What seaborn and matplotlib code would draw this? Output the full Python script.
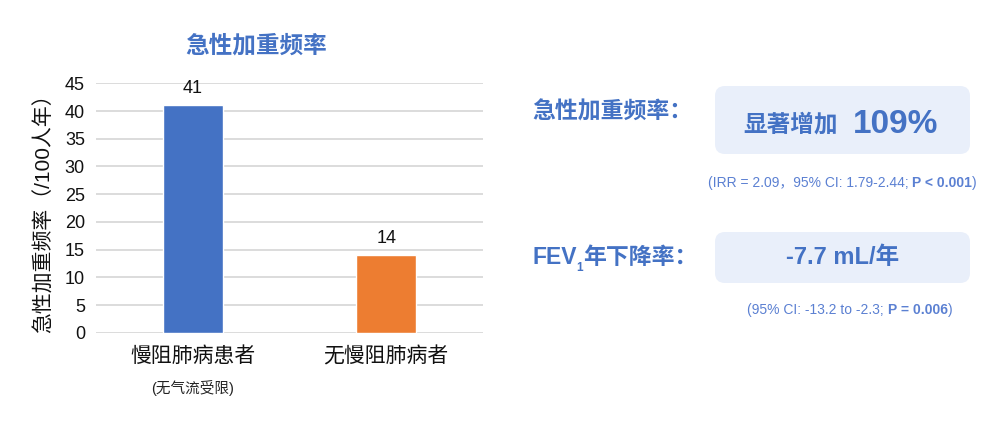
import matplotlib
matplotlib.use("Agg")
import pandas as pd
import seaborn as sns
import matplotlib.pyplot as plt
from matplotlib.patches import FancyBboxPatch

# chart data
groups = ["慢阻肺病患者", "无慢阻肺病者"]
rates = [41, 14]
yticks = [0, 5, 10, 15, 20, 25, 30, 35, 40, 45]
bar_colors = ["#4472C4", "#ED7D31"]
title = "急性加重频率"
ylabel = "急性加重频率（/100人年）"
sub_label = "(无气流受限)"

# right-hand summary texts
summary1_label = "急性加重频率："
summary1_word = "显著增加"
summary1_value = "109%"
summary1_stats = ["(IRR = 2.09，95% CI: 1.79-2.44; ", "P < 0.001", ")"]
summary2_label = ["FEV", "1", "年下降率："]
summary2_value = "-7.7 mL/年"
summary2_stats = ["(95% CI: -13.2 to -2.3; ", "P = 0.006", ")"]

sns.set_theme(style="whitegrid")
plt.rcParams['font.family'] = ['Liberation Sans', 'Noto Sans CJK SC', 'DejaVu Sans']

blue = "#4472C4"
light = "#5B80D2"

fig = plt.figure(figsize=(10, 4.25), dpi=100)
ax = fig.add_axes([0.096, 0.217, 0.387, 0.587])

df = pd.DataFrame({"group": groups, "rate": rates})
sns.barplot(data=df, x="group", y="rate", hue="group", palette=bar_colors,
            width=0.31, saturation=1, legend=False, ax=ax)

ax.set_xlim(-0.5, 1.5)
ax.set_ylim(0, 45)
ax.set_yticks(yticks)
ax.xaxis.grid(False)
ax.yaxis.grid(True, color="#D9D9D9", linewidth=1.3)
for s in ax.spines.values():
    s.set_visible(False)
ax.tick_params(axis="y", labelsize=13, pad=8, length=0, labelcolor="#111111")
ax.tick_params(axis="x", labelsize=15, pad=10, length=0, labelcolor="#111111")
ax.set_xlabel("")
ax.set_ylabel(ylabel, fontsize=15, labelpad=8, color="#111111")
for c in ax.containers:
    ax.bar_label(c, padding=6, fontsize=13, color="#111111")

ax.annotate(sub_label, xy=(0, 0), xycoords=("data", "axes fraction"),
            xytext=(0, -40), textcoords="offset points",
            ha="center", va="center", fontsize=10.5, color="#222222")

fig.text(0.256, 1 - 46 / 425, title, ha="center", va="center",
         fontsize=17, fontweight="bold", color=blue)

# overlay in pixel coordinates for the summary panel
pan = fig.add_axes([0, 0, 1, 1])
pan.set_xlim(0, 1000)
pan.set_ylim(425, 0)
pan.axis("off")
pan.patch.set_alpha(0)

for (x0, y0, w, h) in [(715, 86, 255, 68), (715, 232, 255, 51)]:
    pan.add_patch(FancyBboxPatch((x0, y0), w, h,
                                 boxstyle="round,pad=0,rounding_size=10",
                                 facecolor="#E9EFFA", edgecolor="none"))

pan.text(532, 112, summary1_label, ha="left", va="center",
         fontsize=16.5, fontweight="bold", color=blue)
pan.text(838, 125, summary1_word, ha="right", va="center",
         fontsize=17, fontweight="bold", color=blue)
pan.text(853, 124, summary1_value, ha="left", va="center",
         fontsize=24, fontweight="bold", color=blue)

def stats_line(x, y, parts):
    t1 = pan.text(x, y, parts[0], ha="left", va="center", fontsize=10, color=light)
    t2 = pan.annotate(parts[1], xy=(1, 0), xycoords=t1, ha="left", va="bottom",
                      fontsize=10, fontweight="bold", color=light)
    pan.annotate(parts[2], xy=(1, 0), xycoords=t2, ha="left", va="bottom",
                 fontsize=10, color=light)

stats_line(708, 183, summary1_stats)

f1 = pan.text(532, 258, summary2_label[0], ha="left", va="center",
              fontsize=16.5, fontweight="bold", color=blue)
f2 = pan.annotate(summary2_label[1], xy=(1, 0), xycoords=f1, ha="left", va="bottom",
                  xytext=(0, -3), textcoords="offset points",
                  fontsize=8.5, fontweight="bold", color=blue)
pan.annotate(summary2_label[2], xy=(1, 0), xycoords=(f2, f1), ha="left", va="bottom",
             fontsize=16.5, fontweight="bold", color=blue)

pan.text(843, 258, summary2_value, ha="center", va="center",
         fontsize=17, fontweight="bold", color=blue)

stats_line(747, 310, summary2_stats)

fig.savefig("out.png", dpi=100)
